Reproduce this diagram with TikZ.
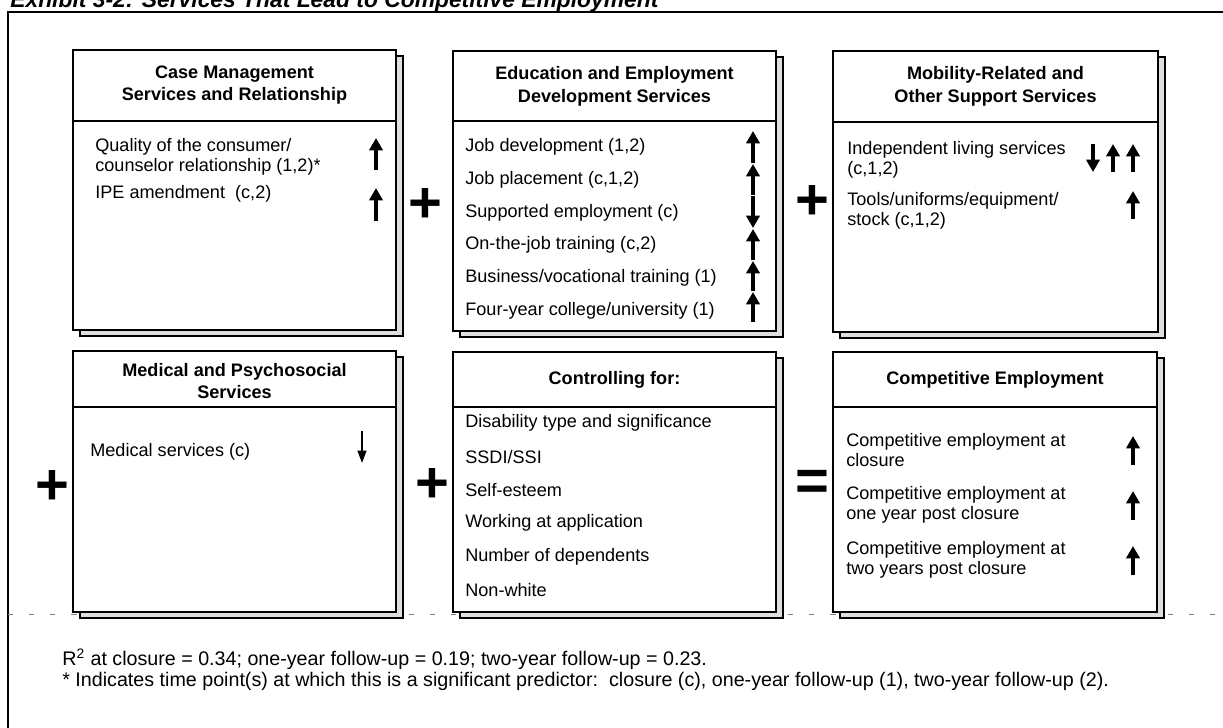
\documentclass[tikz,border=0pt]{standalone}
\usepackage{fontspec}
\setmainfont{Liberation Sans}
\usetikzlibrary{arrows.meta, positioning}

\begin{document}
\begin{tikzpicture}[x=0.02cm, y=-0.02cm,
    panel/.style={draw, line width=1.1pt, fill=white},
    backcard/.style={draw, line width=0.8pt, fill=gray!25},
    hdr/.style={font=\fontsize{10.3}{13}\selectfont\bfseries, align=center, inner sep=0pt},
    item/.style={font=\fontsize{10.3}{11.6}\selectfont, align=left, anchor=west, inner sep=0pt},
    op/.style={font=\fontsize{33}{33}\selectfont\bfseries, inner sep=0pt},
    note/.style={font=\fontsize{11.2}{12}\selectfont, anchor=west, inner sep=0pt},
    uparr/.style={line width=1.8pt, -{Triangle[width=7.5pt,length=7pt]}},
    thinarr/.style={line width=0.9pt, -{Triangle[width=5pt,length=7pt]}}
  ]
  \useasboundingbox (0,0) rectangle (1223,727);
  \clip (0,0) rectangle (1223,727);

  \node[anchor=base west, inner sep=0pt, font=\fontsize{13}{15}\selectfont\bfseries\itshape] (title) at (10,7)
    {Exhibit 3-2: Services That Lead to Competitive Employment};
  \draw[line width=1.3pt] (8,740) -- (8,12) -- (1240,12);
  \draw[gray, line width=0.5pt, dash pattern=on 3pt off 9pt] (8,614) -- (1223,614);

  % cards: x1/y1/x2/y2/divider
  \foreach \xa/\ya/\xb/\yb/\yd in {73/50/396/330/121, 453/51/776/331/121, 833/51/1158/332/122,
                                   73/351/396/612/407, 453/352/776/612/407, 833/352/1157/612/407}{
    \draw[backcard] (\xa+7,\ya+6) rectangle (\xb+7,\yb+6);
    \draw[panel] (\xa,\ya) rectangle (\xb,\yb);
    \draw[line width=1.1pt] (\xa,\yd) -- (\xb,\yd);
  }

  \node[hdr] (hcm)  at (234.5,85)  {Case Management\\Services and Relationship};
  \node[hdr] (hedu) at (614.5,86)  {Education and Employment\\Development Services};
  \node[hdr] (hmob) at (995.5,86)  {Mobility-Related and\\Other Support Services};
  \node[hdr] (hmed) at (234.5,381) {Medical and Psychosocial\\Services};
  \node[hdr] (hctl) at (614.5,380) {Controlling for:};
  \node[hdr] (hemp) at (995,380)   {Competitive Employment};

  \node[item] (cm1) at (95,157) {Quality of the consumer/\\counselor relationship (1,2)*};
  \node[item] (cm2) at (95,194) {IPE amendment~~(c,2)};
  \draw[uparr] (376,170) -- (376,138);
  \draw[uparr] (376,221) -- (376,188);

  \foreach \y/\t [count=\i] in {147/{Job development (1,2)}, 180/{Job placement (c,1,2)},
      213/{Supported employment (c)}, 245/{On-the-job training (c,2)},
      278/{Business/vocational training (1)}, 311/{Four-year college/university (1)}}
    \node[item] (edu\i) at (465,\y) {\t};
  \foreach \a/\b in {163/131, 195/164, 196/228, 260/229, 291/261, 322/292}
    \draw[uparr] (753,\a) -- (753,\b);

  \node[item] (mob1) at (847,160) {Independent living services\\(c,1,2)};
  \node[item] (mob2) at (847,211) {Tools/uniforms/equipment/\\stock (c,1,2)};
  \draw[uparr] (1093,144) -- (1093,172);
  \draw[uparr] (1113,172) -- (1113,144);
  \draw[uparr] (1133,172) -- (1133,144);
  \draw[uparr] (1133,219) -- (1133,191);

  \node[item] (med1) at (90,452) {Medical services (c)};
  \draw[thinarr] (362,431) -- (362,463);

  \foreach \y/\t [count=\i] in {423/{Disability type and significance}, 457/{SSDI/SSI}, 490/{Self-esteem},
      523/{Working at application}, 557/{Number of dependents}, 590/{Non-white}}
    \node[item] (ctl\i) at (465,\y) {\t};

  \node[item] (emp1) at (846,450) {Competitive employment at\\closure};
  \node[item] (emp2) at (846,505) {Competitive employment at\\one year post closure};
  \node[item] (emp3) at (846,560) {Competitive employment at\\two years post closure};
  \foreach \y in {450,505,560}
    \draw[uparr] (1133,\y+15) -- (1133,\y-14);

  \node[op] (plus1) at (425,205) {+};
  \node[op] (plus2) at (812,202) {+};
  \node[op] (plus3) at (52,487)  {+};
  \node[op] (plus4) at (432,485) {+};
  \node[op] (equal) at (812,485) {=};

  \node[note] (r2)   at (62,659) {R\textsuperscript{2} at closure = 0.34; one-year follow-up = 0.19; two-year follow-up = 0.23.};
  \node[note] (star) at (62,681) {* Indicates time point(s) at which this is a significant predictor:~~closure (c), one-year follow-up (1), two-year follow-up (2).};
\end{tikzpicture}
\end{document}
